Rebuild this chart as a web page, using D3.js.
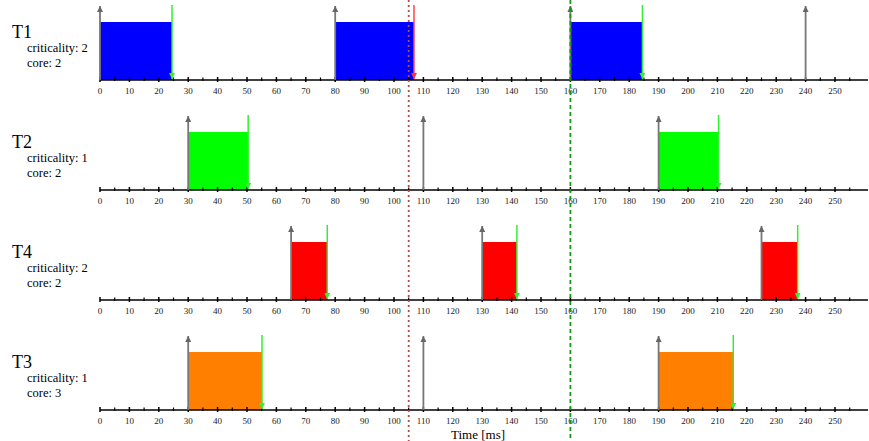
<!DOCTYPE html>
<meta charset="utf-8">
<head>
  <title>Task schedule</title>
</head>
<style>
body { margin: 0; background: #fff; }
text { font-family: "Liberation Serif", "DejaVu Serif", serif; }
</style>
<body>
<div id="content"></div>
<script src="https://cdnjs.cloudflare.com/ajax/libs/d3/7.8.5/d3.min.js"></script>
<script>

const width = 869
const height = 441

// task rows, top to bottom
var taskNames = ["T1", "T2", "T4", "T3"];
var criticality = [2, 1, 2, 1];
var cores = [2, 2, 2, 3];
var taskColors = ["#0000ff", "#00ff00", "#ff0000", "#ff8000"];

// release times per task
var releases = [
  [0, 80, 160, 240],
  [30, 110, 190],
  [65, 130, 225],
  [30, 110, 190]
];

// executed jobs: [start, end, missed?]
var jobs = [
  [[0, 24.5, 0], [80, 106.8, 1], [160, 184.5, 0]],
  [[30, 50.4, 0], [190, 210.4, 0]],
  [[65, 77.3, 0], [130, 141.8, 0], [225, 237.3, 0]],
  [[30, 55.1, 0], [190, 215.4, 0]]
];

// tick values
var majorTicks = d3.range(0, 251, 10);
var minorTicks = d3.range(5, 256, 10);

// vertical markers
var markerTimes = [105, 160];
var markerColors = ["#b84a4a", "#119911"];

var x = d3.scaleLinear().domain([0, 250]).range([100, 835]);
var rowY = d3.scaleLinear().domain([0, 1]).range([80, 190]);

const svg = d3.select('#content')
  .append('svg')
    .attr('width', width)
    .attr('height', height)

var defs = svg.append('defs');
function arrowMarker(id, color, up) {
  defs.append('marker')
    .attr('id', id)
    .attr('viewBox', '0 0 10 10')
    .attr('refX', 5).attr('refY', up ? 0 : 10)
    .attr('markerWidth', 6).attr('markerHeight', 6)
    .attr('markerUnits', 'userSpaceOnUse')
    .attr('orient', 0)
    .append('path')
      .attr('d', up ? 'M0,10 L5,0 L10,10 Z' : 'M0,0 L5,10 L10,0 Z')
      .attr('fill', color);
}
arrowMarker('relArrow', '#666', true);
arrowMarker('doneArrow', '#33ee33', false);
arrowMarker('missArrow', '#ff3333', false);

taskNames.forEach(function(name, i) {
  var base = rowY(i);
  var g = svg.append('g');

  // labels
  g.append('text').attr('x', 12).attr('y', base - 42)
    .attr('font-size', 18).text(name);
  g.append('text').attr('x', 27).attr('y', base - 28)
    .attr('font-size', 12.5).text('criticality: ' + criticality[i]);
  g.append('text').attr('x', 27).attr('y', base - 13)
    .attr('font-size', 12.5).text('core: ' + cores[i]);

  // bars
  g.selectAll('rect.job')
    .data(jobs[i])
    .enter()
    .append('rect')
      .attr('x', function(d) { return x(d[0]); })
      .attr('width', function(d) { return x(d[1]) - x(d[0]); })
      .attr('y', base - 58)
      .attr('height', 58)
      .attr('fill', taskColors[i]);

  // axis
  g.append('line')
    .attr('x1', 100).attr('x2', 868)
    .attr('y1', base).attr('y2', base)
    .attr('stroke', '#000').attr('stroke-width', 1.5);
  g.selectAll('line.major')
    .data(majorTicks)
    .enter()
    .append('line')
      .attr('x1', function(d) { return x(d); })
      .attr('x2', function(d) { return x(d); })
      .attr('y1', base - 3).attr('y2', base + 2)
      .attr('stroke', '#000').attr('stroke-width', 1.5);
  g.selectAll('line.minor')
    .data(minorTicks)
    .enter()
    .append('line')
      .attr('x1', function(d) { return x(d); })
      .attr('x2', function(d) { return x(d); })
      .attr('y1', base - 2.5).attr('y2', base + 1)
      .attr('stroke', '#000').attr('stroke-width', 1.2);
  g.selectAll('text.tick')
    .data(majorTicks)
    .enter()
    .append('text')
      .attr('x', function(d) { return x(d); })
      .attr('y', base + 14)
      .attr('text-anchor', 'middle')
      .attr('font-size', 9)
      .attr('fill', '#222')
      .text(function(d) { return d; });

  // release arrows
  g.selectAll('line.rel')
    .data(releases[i])
    .enter()
    .append('line')
      .attr('x1', function(d) { return x(d); })
      .attr('x2', function(d) { return x(d); })
      .attr('y1', base).attr('y2', base - 74)
      .attr('stroke', '#777').attr('stroke-width', 1.8)
      .attr('marker-end', 'url(#relArrow)');

  // completion arrows
  g.selectAll('line.done')
    .data(jobs[i])
    .enter()
    .append('line')
      .attr('x1', function(d) { return x(d[1]); })
      .attr('x2', function(d) { return x(d[1]); })
      .attr('y1', base - 75).attr('y2', base - 1)
      .attr('stroke', function(d) { return d[2] ? '#ff4444' : '#33ee33'; })
      .attr('stroke-width', 1.5)
      .attr('marker-end', function(d) { return d[2] ? 'url(#missArrow)' : 'url(#doneArrow)'; });
});

// vertical markers
svg.selectAll('line.marker')
  .data(markerTimes)
  .enter()
  .append('line')
    .attr('x1', function(d) { return x(d); })
    .attr('x2', function(d) { return x(d); })
    .attr('y1', 0).attr('y2', height)
    .attr('stroke', function(d, i) { return markerColors[i]; })
    .attr('stroke-width', 1.8)
    .attr('stroke-dasharray', function(d, i) { return i == 0 ? '2,3' : '4,3'; });

svg.append('text')
  .attr('x', 478).attr('y', 439)
  .attr('text-anchor', 'middle')
  .attr('font-size', 13)
  .text('Time [ms]');

</script>
</body>
</html>
